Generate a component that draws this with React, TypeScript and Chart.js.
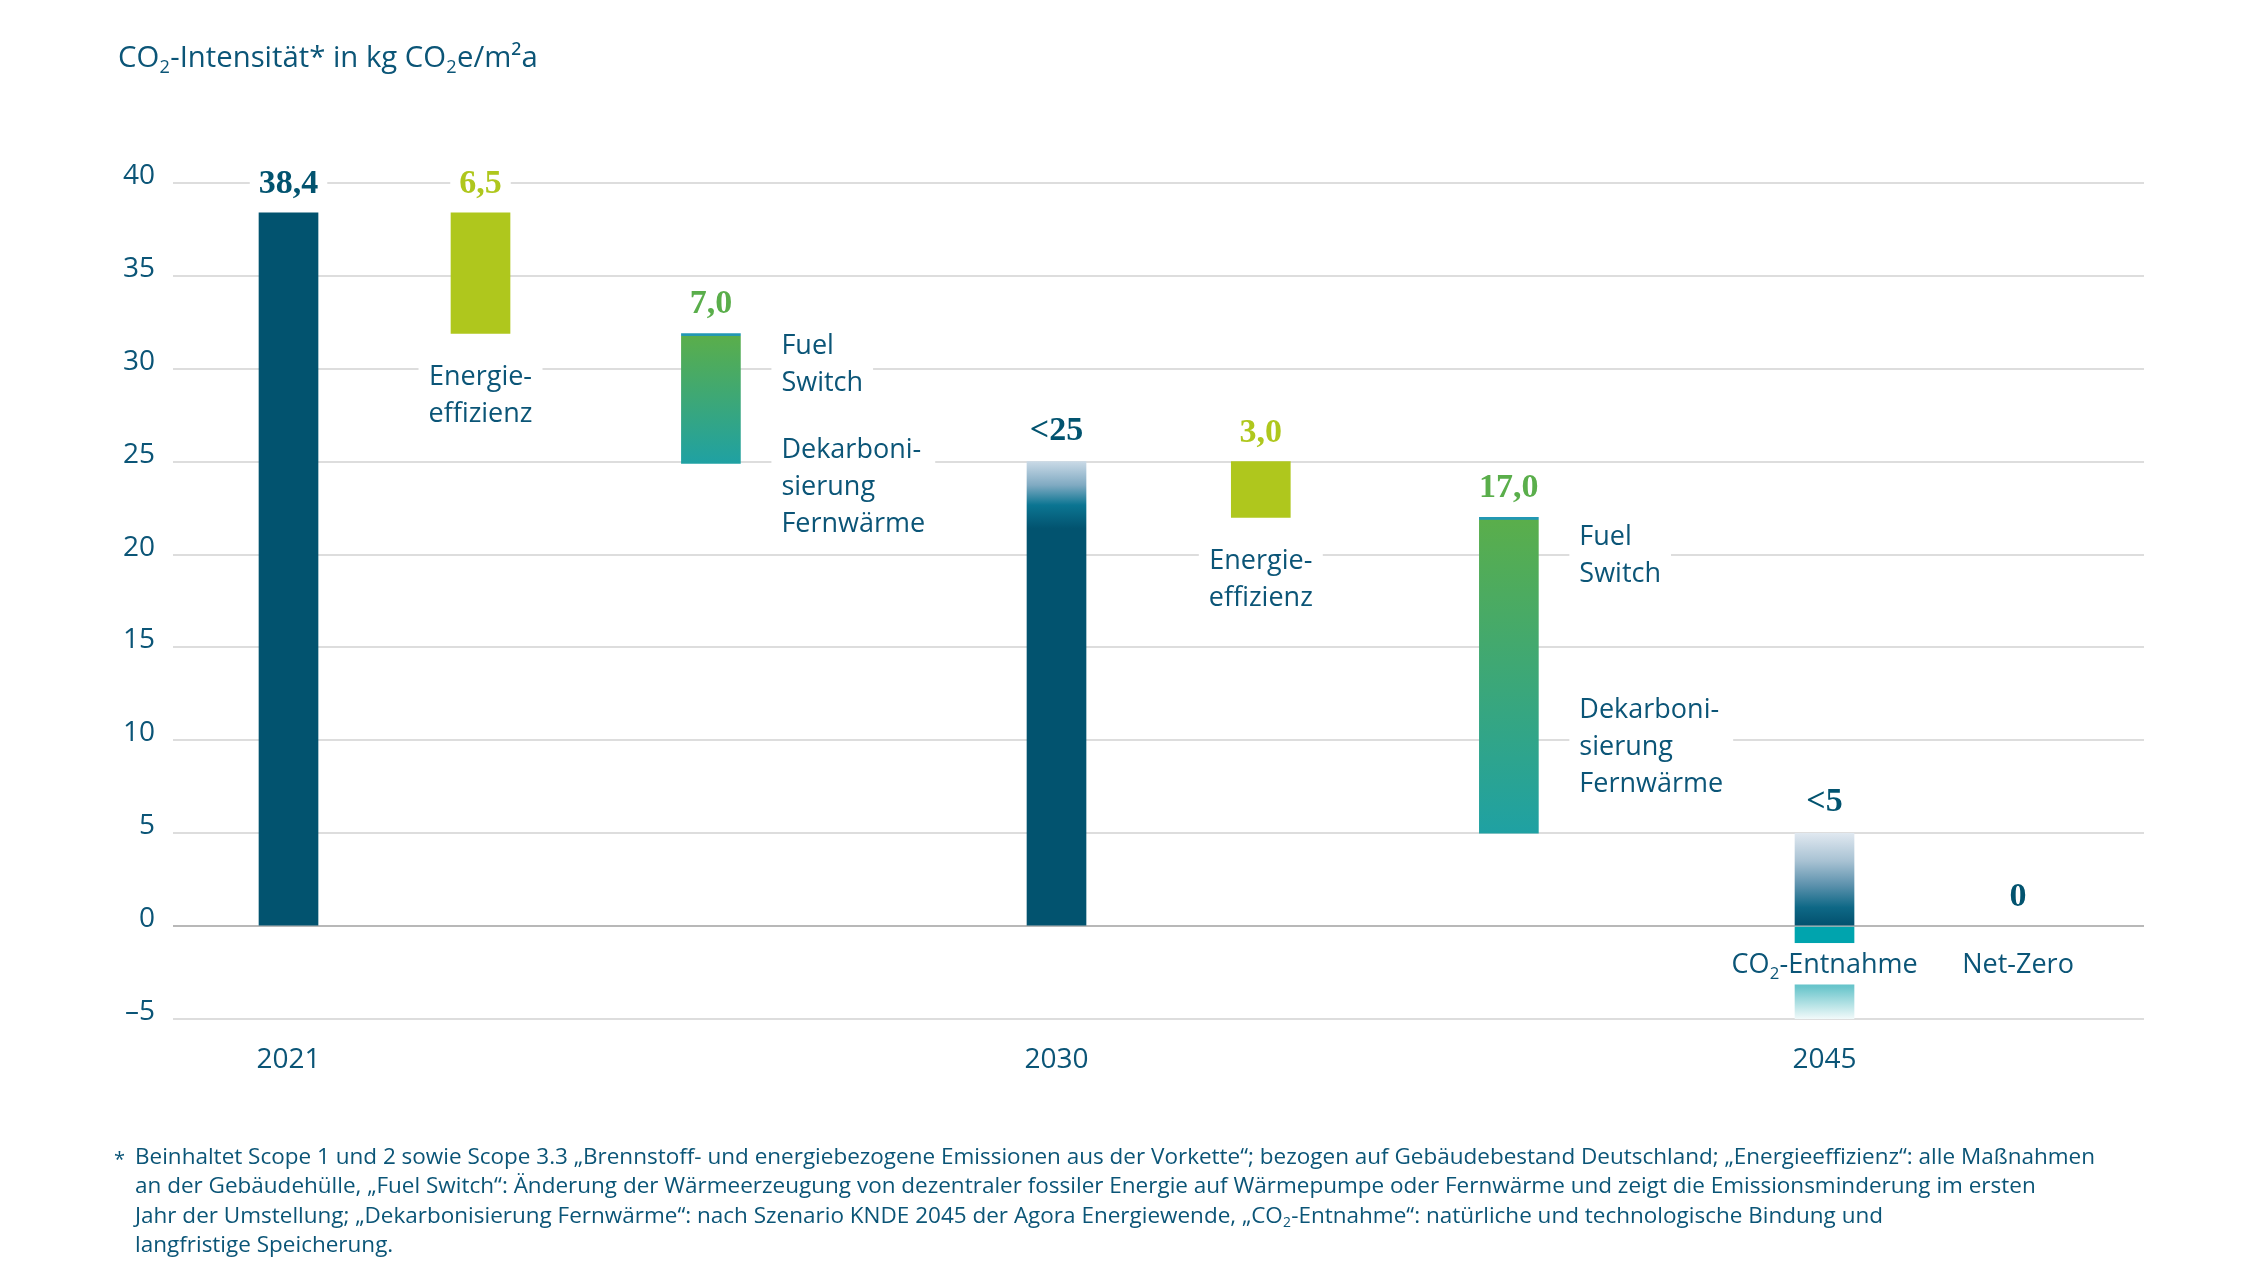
import React, { useEffect, useRef } from "react";
import { Chart, registerables } from "chart.js";

Chart.register(...registerables);

// ---- Data -------------------------------------------------------------
// Waterfall of the CO2 intensity of the building stock (kg CO2e/m²a)
const stepNames = [
  "2021",
  "Energieeffizienz",
  "Fuel Switch / Dekarbonisierung Fernwärme",
  "2030",
  "Energieeffizienz",
  "Fuel Switch / Dekarbonisierung Fernwärme",
  "2045",
  "Net-Zero",
];
const stepKinds = ["total", "delta", "delta", "total", "delta", "delta", "total", "total"];
const stepValues = [38.4, -6.5, -7.0, 25, -3.0, -17.0, 5, 0];
const valueLabels = ["38,4", "6,5", "7,0", "<25", "3,0", "17,0", "<5", "0"];
const removalStep = 6;
const removalValue = -5; // CO₂-Entnahme 2045
const yearLabels = ["2021", "2030", "2045"];
const yearSteps = [0, 3, 6];
const yMin = -5;
const yMax = 40;
const yStep = 5;

const footnoteLines = [
  "Beinhaltet Scope 1 und 2 sowie Scope 3.3 „Brennstoff- und energiebezogene Emissionen aus der Vorkette“; bezogen auf Gebäudebestand Deutschland; „Energieeffizienz“: alle Maßnahmen",
  "an der Gebäudehülle, „Fuel Switch“: Änderung der Wärmeerzeugung von dezentraler fossiler Energie auf Wärmepumpe oder Fernwärme und zeigt die Emissionsminderung im ersten",
  "Jahr der Umstellung; „Dekarbonisierung Fernwärme“: nach Szenario KNDE 2045 der Agora Energiewende, „CO₂-Entnahme“: natürliche und technologische Bindung und",
  "langfristige Speicherung.",
];
const titleText = "CO₂-Intensität* in kg CO₂e/m²a";

// ---- Layout ------------------------------------------------------------
// horizontal slot of each step on a linear x axis (one unit per milestone year)
const slotPos = [0, 0.25, 0.55, 1, 1.266, 1.589, 2, 2.252];

// annotation blocks next to / below the bars
type Note = { step: number; lines: string[]; place: "below" | "right" | "center"; y?: number };
const notes: Note[] = [
  { step: 1, lines: ["Energie-", "effizienz"], place: "below" },
  { step: 2, lines: ["Fuel", "Switch"], place: "right", y: 30.8 },
  { step: 2, lines: ["Dekarboni-", "sierung", "Fernwärme"], place: "right", y: 25.2 },
  { step: 4, lines: ["Energie-", "effizienz"], place: "below" },
  { step: 5, lines: ["Fuel", "Switch"], place: "right", y: 20.5 },
  { step: 5, lines: ["Dekarboni-", "sierung", "Fernwärme"], place: "right", y: 11.2 },
  { step: 6, lines: ["CO₂-Entnahme"], place: "center", y: -2.55 },
  { step: 7, lines: ["Net-Zero"], place: "center", y: -2.55 },
];

const SANS = "'Open Sans', 'Noto Sans', sans-serif";
const SERIF = "'Liberation Serif', 'DejaVu Serif', serif";
const INK = "#0b5577";
const NAVY = "#02536f";
const LIME = "#afc71d";
const GREEN = "#5aae4b";

const valueColors = [NAVY, LIME, GREEN, NAVY, LIME, GREEN, NAVY, NAVY];

// ---- Helpers -----------------------------------------------------------
const ranges: [number, number][] = [];
{
  let level = 0;
  stepKinds.forEach((k, i) => {
    if (k === "total") {
      ranges.push([0, stepValues[i]]);
      level = stepValues[i];
    } else {
      ranges.push([level, level + stepValues[i]]);
      level += stepValues[i];
    }
  });
}

// text with "₂" rendered as a lowered small 2
function richWidth(ctx: CanvasRenderingContext2D, text: string, size: number) {
  let w = 0;
  for (const part of text.split(/(₂)/)) {
    if (!part) continue;
    if (part === "₂") {
      ctx.font = `${size * 0.62}px ${SANS}`;
      w += ctx.measureText("2").width + size * 0.02;
    } else {
      ctx.font = `${size}px ${SANS}`;
      w += ctx.measureText(part).width;
    }
  }
  return w;
}

function drawRich(ctx: CanvasRenderingContext2D, text: string, x: number, y: number, size: number) {
  ctx.textAlign = "left";
  ctx.textBaseline = "alphabetic";
  let cx = x;
  for (const part of text.split(/(₂)/)) {
    if (!part) continue;
    if (part === "₂") {
      ctx.font = `${size * 0.62}px ${SANS}`;
      ctx.fillText("2", cx + size * 0.01, y + size * 0.2);
      cx += ctx.measureText("2").width + size * 0.02;
    } else {
      ctx.font = `${size}px ${SANS}`;
      ctx.fillText(part, cx, y);
      cx += ctx.measureText(part).width;
    }
  }
  return cx - x;
}

function pixelsOf(chart: Chart, lo: number, hi: number) {
  const y = chart.scales && chart.scales.y;
  if (!y) return null;
  const top = y.getPixelForValue(Math.max(lo, hi));
  const bot = y.getPixelForValue(Math.min(lo, hi));
  if (!isFinite(top) || !isFinite(bot) || bot - top < 1) return null;
  return { top, bot, y };
}

function barFill(chart: Chart, step: number, lo: number, hi: number): CanvasGradient | string {
  if (step === 1 || step === 4) return LIME;
  const p = pixelsOf(chart, lo, hi);
  if (!p) return step === 2 || step === 5 ? GREEN : NAVY;
  const { ctx } = chart;
  const { top, bot, y } = p;
  const h = bot - top;
  if (step === 2 || step === 5) {
    const g = ctx.createLinearGradient(0, top, 0, bot);
    g.addColorStop(0, "#2298b4");
    g.addColorStop(Math.min(0.5, 2 / h), "#2298b4");
    g.addColorStop(Math.min(0.5, 2.5 / h), GREEN);
    g.addColorStop(1, "#1fa1a3");
    return g;
  }
  if (step === 3) {
    const fadeEnd = y.getPixelForValue(21.4);
    if (!isFinite(fadeEnd) || fadeEnd <= top) return NAVY;
    const g = ctx.createLinearGradient(0, top, 0, fadeEnd);
    g.addColorStop(0, "#c9d9e6");
    g.addColorStop(0.35, "#80aac2");
    g.addColorStop(0.65, "#0b7592");
    g.addColorStop(1, NAVY);
    return g;
  }
  if (step === 6) {
    const g = ctx.createLinearGradient(0, top, 0, bot);
    g.addColorStop(0, "#e0e8f0");
    g.addColorStop(0.3, "#a8c2d3");
    g.addColorStop(0.55, "#5f93ae");
    g.addColorStop(0.8, "#0e6886");
    g.addColorStop(1, "#02506d");
    return g;
  }
  return NAVY;
}

function removalFill(chart: Chart, lo: number, hi: number): CanvasGradient | string {
  const p = pixelsOf(chart, lo, hi);
  if (!p) return "#00a4ae";
  const g = chart.ctx.createLinearGradient(0, p.top, 0, p.bot);
  g.addColorStop(0, "#00a4ae");
  g.addColorStop(0.2, "#00a4ae");
  g.addColorStop(0.66, "#6cc6cc");
  g.addColorStop(1, "#f2fafa");
  return g;
}

// ---- Plugin: title, value labels, notes, footnote ----------------------
const annotations = {
  id: "waterfallAnnotations",
  afterDatasetsDraw(chart: Chart) {
    const { ctx } = chart;
    const xs = chart.scales.x;
    const ys = chart.scales.y;
    const half = 59 / 2;
    ctx.save();

    // value labels above the bars
    valueLabels.forEach((lab, i) => {
      const [a, b] = ranges[i];
      const cx = xs.getPixelForValue(slotPos[i]);
      const base = ys.getPixelForValue(Math.max(a, b)) - (lab.startsWith("<") ? 22 : 20);
      ctx.font = `bold 34px ${SERIF}`;
      const w = ctx.measureText(lab).width;
      ctx.fillStyle = "#ffffff";
      ctx.fillRect(cx - w / 2 - 9, base - 30, w + 18, 40);
      ctx.fillStyle = valueColors[i];
      ctx.textAlign = "center";
      ctx.textBaseline = "alphabetic";
      ctx.fillText(lab, cx, base);
    });

    // annotation blocks
    const size = 27;
    const lh = 37;
    notes.forEach((n) => {
      const [a, b] = ranges[n.step];
      const cx = xs.getPixelForValue(slotPos[n.step]);
      let base0: number;
      if (n.place === "below") base0 = ys.getPixelForValue(Math.min(a, b)) + 52;
      else base0 = ys.getPixelForValue(n.y as number);
      const widths = n.lines.map((l) => richWidth(ctx, l, size));
      const maxW = Math.max(...widths);
      const left = n.place === "right" ? cx + half + 41 : cx - maxW / 2;
      const boxTop = base0 - size * 0.72 - 11;
      const boxBot = base0 + (n.lines.length - 1) * lh + 11;
      ctx.fillStyle = "#ffffff";
      ctx.fillRect(left - 10, boxTop, maxW + 20, boxBot - boxTop);
      ctx.fillStyle = INK;
      n.lines.forEach((l, k) => {
        const lx = n.place === "right" ? left : cx - widths[k] / 2;
        drawRich(ctx, l, lx, base0 + k * lh, size);
      });
    });

    // axis title
    ctx.fillStyle = INK;
    drawRich(ctx, titleText, 118, 67, 29.3);

    // footnote
    const fSize = 22;
    const target = 1960;
    const natural = richWidth(ctx, footnoteLines[0], fSize);
    const sx = target / natural;
    ctx.fillStyle = INK;
    ctx.font = `20px ${SANS}`;
    ctx.textAlign = "left";
    ctx.fillText("*", 114, 1166);
    footnoteLines.forEach((line, k) => {
      ctx.save();
      ctx.translate(135, 1164 + k * 29.3);
      ctx.scale(sx, 1);
      drawRich(ctx, line, 0, 0, fSize);
      ctx.restore();
    });

    ctx.restore();
  },
};

export default function App() {
  const canvasRef = useRef<HTMLCanvasElement | null>(null);

  useEffect(() => {
    const canvas = canvasRef.current;
    if (!canvas) return;

    const stepData = ranges
      .map((r, i) => ({ x: slotPos[i], y: r as [number, number], step: i }))
      .filter((d) => d.y[0] !== d.y[1]);
    const removalData = [{ x: slotPos[removalStep], y: [removalValue, 0] as [number, number], step: removalStep }];

    const chart = new Chart(canvas, {
      type: "bar",
      data: {
        datasets: [
          {
            label: "Schritte",
            data: stepData as any,
            barThickness: 59,
            borderWidth: 0,
            backgroundColor: (c: any) => {
              const d = c.raw;
              if (!d) return NAVY;
              return barFill(c.chart, d.step, d.y[0], d.y[1]);
            },
          },
          {
            label: "CO₂-Entnahme",
            data: removalData as any,
            barThickness: 59,
            borderWidth: 0,
            backgroundColor: (c: any) => {
              const d = c.raw;
              if (!d) return "#00a4ae";
              return removalFill(c.chart, d.y[0], d.y[1]);
            },
          },
        ],
      },
      options: {
        animation: false,
        responsive: true,
        maintainAspectRatio: false,
        layout: { padding: { top: 183, right: 119, left: 0, bottom: 0 } },
        datasets: { bar: { grouped: false } },
        plugins: {
          legend: { display: false },
          tooltip: { enabled: false },
          title: { display: false },
        },
        scales: {
          x: {
            type: "linear",
            offset: false,
            min: -0.1504,
            max: 2.416,
            grid: { display: false, drawTicks: false, offset: false },
            border: { display: false },
            afterFit: (s: any) => {
              s.height = 254;
            },
            afterBuildTicks: (s: any) => {
              s.ticks = yearSteps.map((i) => ({ value: slotPos[i] }));
            },
            ticks: {
              padding: 24,
              color: INK,
              font: { family: SANS, size: 28 },
              callback: (v: any) => {
                const idx = yearSteps.findIndex((i) => Math.abs(slotPos[i] - Number(v)) < 1e-6);
                return idx >= 0 ? yearLabels[idx] : "";
              },
            },
          },
          y: {
            type: "linear",
            min: yMin,
            max: yMax,
            grid: {
              drawTicks: false,
              lineWidth: 2,
              color: (c: any) => (c.tick && c.tick.value === 0 ? "#b8b8b8" : "#dddddd"),
            },
            border: { display: false },
            afterFit: (s: any) => {
              s.width = 173;
            },
            ticks: {
              stepSize: yStep,
              padding: 18,
              labelOffset: -7,
              color: INK,
              font: { family: SANS, size: 28 },
              callback: (v: any) => (Number(v) < 0 ? "–" + Math.abs(Number(v)) : String(v)),
            },
          },
        },
      },
      plugins: [annotations],
    });

    return () => chart.destroy();
  }, []);

  return (
    <div style={{ position: "absolute", left: 0, top: 0, width: 2263, height: 1273, background: "#ffffff" }}>
      <canvas ref={canvasRef} />
    </div>
  );
}
